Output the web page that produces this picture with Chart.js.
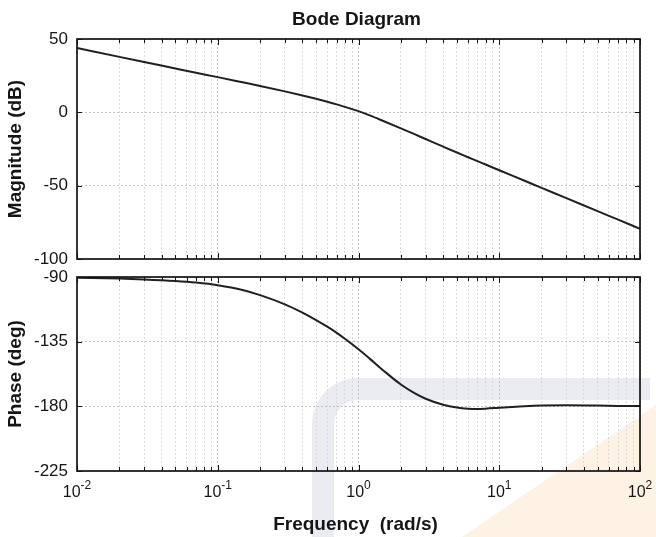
<!DOCTYPE html>
<html>
<head>
<meta charset="utf-8">
<title>Bode Diagram</title>
<script src="https://cdn.jsdelivr.net/npm/chart.js@4.4.1/dist/chart.umd.min.js"></script>
<style>
  html, body { margin: 0; padding: 0; background: #fff; }
  #wrap { position: relative; width: 656px; height: 537px; overflow: hidden; }
  canvas { position: absolute; left: 0; }
  #mag { top: 0; }
  #phase { top: 266px; }
</style>
</head>
<body>
<div id="wrap">
  <canvas id="mag" width="656" height="272"></canvas>
  <canvas id="phase" width="656" height="271"></canvas>
</div>
<script>
// values
const frequencies = [0.01, 0.02, 0.03, 0.05, 0.07, 0.1, 0.15, 0.2, 0.3, 0.4, 0.5, 0.6, 0.7, 0.8,
  1, 1.2, 1.5, 2, 2.5, 3, 4, 5, 6, 7, 8, 10, 15, 20, 30, 50, 70, 100];
const magnitudeDb = [43.8, 37.8, 34.3, 29.9, 27.0, 24.0, 20.5, 18.0, 14.3, 11.5, 9.2, 7.2, 5.4, 3.7,
  0.8, -2.1, -5.9, -10.9, -14.9, -18.2, -23.4, -27.4, -30.6, -33.3, -35.6, -39.5, -46.5, -51.5, -58.5, -67.4, -73.2, -79.4];
const phaseDeg = [-90.5, -91.1, -91.7, -92.8, -93.9, -95.7, -99.0, -102.6, -109.0, -114.8, -120.0, -124.6, -128.9, -133.0,
  -140.3, -146.8, -155.0, -164.8, -170.8, -174.7, -178.9, -180.8, -181.6, -181.8, -181.6, -181.0, -180.0, -179.5, -179.3, -179.5, -179.7, -179.8];

const decadeTicks = [0.01, 0.1, 1, 10, 100];
const decadeExponents = ['-2', '-1', '0', '1', '2'];
const minorSteps = [2, 3, 4, 5, 6, 7, 8, 9];
const magTicks = [-100, -50, 0, 50];
const phaseTicks = [-225, -180, -135, -90];

const fontFamily = '"Liberation Sans", Arial, Helvetica, sans-serif';
const majorGrid = '#c2c2c2';
const minorGrid = '#dadada';
const inkColor = '#151515';

function logGridTicks() {
  const ticks = [];
  decadeTicks.forEach((d, i) => {
    ticks.push({ value: d, major: true });
    if (i < decadeTicks.length - 1) {
      minorSteps.forEach(m => ticks.push({ value: d * m, major: false }));
    }
  });
  return ticks;
}

function xScale(height) {
  return {
    type: 'logarithmic',
    min: 0.01,
    max: 100,
    afterBuildTicks: s => { s.ticks = logGridTicks(); },
    afterFit: s => {
      s.height = height;
      s.paddingLeft = 0;
      s.paddingRight = 0;
    },
    ticks: { display: false },
    grid: {
      drawTicks: false,
      lineWidth: 1,
      color: c => (c.tick && c.tick.major ? majorGrid : minorGrid)
    },
    border: { display: false, dash: [2, 2] }
  };
}

function yScale(tickValues) {
  return {
    min: tickValues[0],
    max: tickValues[tickValues.length - 1],
    afterBuildTicks: s => { s.ticks = tickValues.map(v => ({ value: v })); },
    afterFit: s => {
      // keep the plot box where the reference has it
      s.width = 77;
      s.paddingTop = 0;
      s.paddingBottom = 0;
    },
    ticks: {
      padding: 9,
      color: inkColor,
      font: { family: fontFamily, size: 17 },
      callback: v => String(v)
    },
    grid: { drawTicks: false, color: majorGrid, lineWidth: 1 },
    border: { display: false, dash: [2, 2] }
  };
}

// MATLAB style box with inward ticks
const boxPlugin = {
  id: 'box',
  afterDraw(chart) {
    const { ctx, chartArea: a, scales } = chart;
    ctx.save();
    ctx.strokeStyle = inkColor;
    ctx.lineWidth = 1;
    ctx.beginPath();
    scales.x.ticks.forEach(t => {
      const px = Math.round(scales.x.getPixelForValue(t.value)) + 0.5;
      const len = t.major ? 6 : 4;
      ctx.moveTo(px, a.top); ctx.lineTo(px, a.top + len);
      ctx.moveTo(px, a.bottom); ctx.lineTo(px, a.bottom - len);
    });
    scales.y.ticks.forEach(t => {
      const py = Math.round(scales.y.getPixelForValue(t.value)) + 0.5;
      ctx.moveTo(a.left, py); ctx.lineTo(a.left + 5, py);
      ctx.moveTo(a.right, py); ctx.lineTo(a.right - 5, py);
    });
    ctx.stroke();
    ctx.lineWidth = 1.7;
    ctx.strokeRect(a.left, a.top, a.right - a.left, a.bottom - a.top);
    ctx.restore();
  }
};

// title, rotated y label, 10^n tick labels and x label
const textPlugin = {
  id: 'bodeText',
  afterDraw(chart, args, opts) {
    const { ctx, chartArea: a, scales } = chart;
    const midX = (a.left + a.right) / 2;
    ctx.save();
    ctx.fillStyle = inkColor;

    if (opts.title) {
      ctx.font = 'bold 19px ' + fontFamily;
      ctx.textAlign = 'center';
      ctx.textBaseline = 'alphabetic';
      ctx.fillText(opts.title, midX - 2, 25);
    }

    if (opts.yLabel) {
      ctx.save();
      ctx.translate(16, (a.top + a.bottom) / 2);
      ctx.rotate(-Math.PI / 2);
      ctx.font = 'bold 19px ' + fontFamily;
      ctx.textAlign = 'center';
      ctx.textBaseline = 'middle';
      ctx.fillText(opts.yLabel, 0, 0);
      ctx.restore();
    }

    if (opts.xTicks) {
      ctx.textAlign = 'left';
      ctx.textBaseline = 'alphabetic';
      const baseY = a.bottom + 26;
      decadeTicks.forEach((d, i) => {
        const px = scales.x.getPixelForValue(d);
        ctx.font = '16px ' + fontFamily;
        const wb = ctx.measureText('10').width;
        ctx.font = '12px ' + fontFamily;
        const we = ctx.measureText(decadeExponents[i]).width;
        const start = px - (wb + we) / 2;
        ctx.font = '16px ' + fontFamily;
        ctx.fillText('10', start, baseY);
        ctx.font = '12px ' + fontFamily;
        ctx.fillText(decadeExponents[i], start + wb, baseY - 8);
      });
    }

    if (opts.xLabel) {
      ctx.font = 'bold 19px ' + fontFamily;
      ctx.textAlign = 'center';
      ctx.textBaseline = 'alphabetic';
      ctx.fillText(opts.xLabel, midX - 3, a.bottom + 59);
    }
    ctx.restore();
  }
};

// faint logo watermark behind the phase plot (canvas starts at page y 266)
const watermarkPlugin = {
  id: 'watermark',
  beforeDraw(chart) {
    const ctx = chart.ctx;
    const oy = 266;
    ctx.save();
    ctx.fillStyle = '#fdf2e3';
    ctx.beginPath();
    ctx.moveTo(462, 537 - oy);
    ctx.lineTo(656, 405 - oy);
    ctx.lineTo(656, 537 - oy);
    ctx.closePath();
    ctx.fill();

    ctx.fillStyle = '#eaecf2';
    ctx.beginPath();
    ctx.moveTo(312, 537 - oy);
    ctx.lineTo(312, 424 - oy);
    ctx.arc(358, 424 - oy, 46, Math.PI, 1.5 * Math.PI);
    ctx.lineTo(650, 378 - oy);
    ctx.lineTo(650, 400 - oy);
    ctx.lineTo(358, 400 - oy);
    ctx.arc(358, 424 - oy, 24, 1.5 * Math.PI, Math.PI, true);
    ctx.lineTo(334, 537 - oy);
    ctx.closePath();
    ctx.fill();
    ctx.restore();
  }
};

function seriesPoints(values) {
  return frequencies.map((f, i) => ({ x: f, y: values[i] }));
}

function lineDataset(values) {
  return {
    data: seriesPoints(values),
    borderColor: '#202020',
    borderWidth: 2,
    pointRadius: 0,
    fill: false,
    cubicInterpolationMode: 'monotone'
  };
}

const commonOptions = {
  responsive: false,
  animation: false,
  events: [],
  plugins: { legend: { display: false }, tooltip: { enabled: false } }
};

const magChart = new Chart(document.getElementById('mag'), {
  type: 'line',
  data: { datasets: [lineDataset(magnitudeDb)] },
  plugins: [boxPlugin, textPlugin],
  options: {
    ...commonOptions,
    layout: { padding: { top: 39, right: 16, bottom: 13, left: 0 } },
    scales: { x: xScale(0), y: yScale(magTicks) },
    plugins: {
      ...commonOptions.plugins,
      bodeText: { title: 'Bode Diagram', yLabel: 'Magnitude (dB)' }
    }
  }
});

const phaseChart = new Chart(document.getElementById('phase'), {
  type: 'line',
  data: { datasets: [lineDataset(phaseDeg)] },
  plugins: [watermarkPlugin, boxPlugin, textPlugin],
  options: {
    ...commonOptions,
    layout: { padding: { top: 11, right: 16, bottom: 0, left: 0 } },
    scales: { x: xScale(66), y: yScale(phaseTicks) },
    plugins: {
      ...commonOptions.plugins,
      bodeText: { yLabel: 'Phase (deg)', xTicks: true, xLabel: 'Frequency  (rad/s)' }
    }
  }
});
</script>
</body>
</html>
